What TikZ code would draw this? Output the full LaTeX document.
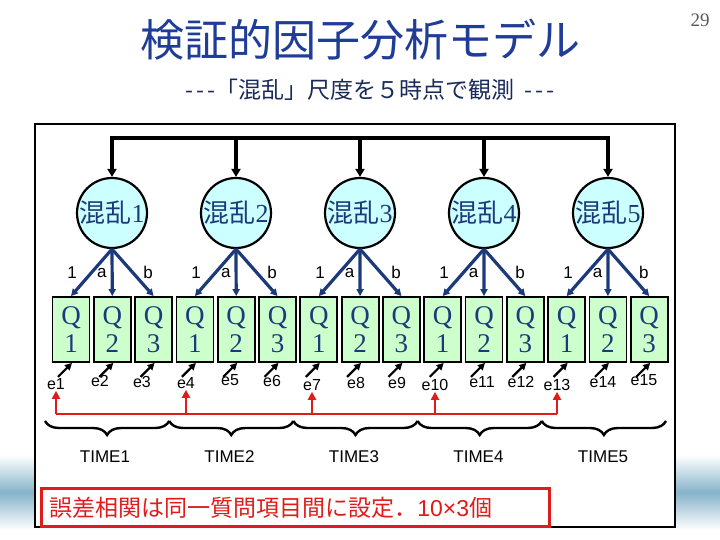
\documentclass[tikz,border=0pt]{standalone}
\usepackage{fontspec}
\setmainfont{Liberation Serif}
\setsansfont{Liberation Sans}
\newfontfamily\jp{Noto Sans CJK JP}
\usepackage{xcolor}
\usetikzlibrary{arrows.meta,decorations.pathreplacing,positioning,calc}

\definecolor{titleblue}{HTML}{1F3C96}
\definecolor{subink}{HTML}{1A2A5A}
\definecolor{inkblue}{HTML}{1C3A7A}
\definecolor{factorfill}{HTML}{CCFFFF}
\definecolor{itemfill}{HTML}{CCFFCC}
\definecolor{corrred}{HTML}{E01B1B}
\definecolor{bandblue}{HTML}{86B3CA}

\begin{document}
\begin{tikzpicture}[x=1pt,y=-1pt,
    factor/.style={circle,draw,line width=2.2pt,fill=factorfill,minimum size=70pt,inner sep=0pt,text=inkblue,font=\fontsize{26}{26}\selectfont},
    item/.style={rectangle,draw,line width=1.8pt,fill=itemfill,minimum width=37pt,minimum height=65pt,inner sep=0pt,align=center,text=inkblue,font=\fontsize{27}{28}\selectfont},
    load/.style={draw=inkblue,line width=3.2pt,-{Triangle[length=7pt,width=7pt]}},
    toparr/.style={line width=3.2pt,-{Triangle[length=8pt,width=9pt]}},
    errarr/.style={line width=2.2pt,-{Triangle[length=7pt,width=7pt]}},
    corr/.style={draw=corrred,line width=2.2pt},
    lab/.style={font=\sffamily\fontsize{17}{17}\selectfont,inner sep=1pt},
    errlab/.style={font=\sffamily\fontsize{16}{16}\selectfont,inner sep=1pt},
    timelab/.style={font=\sffamily\fontsize{17}{17}\selectfont},
    timebrace/.style={decorate,decoration={brace,mirror,amplitude=14pt},line width=2.4pt},
    note/.style={draw=corrred,line width=2.6pt,text=corrred,font=\jp\fontsize{23}{23}\selectfont,minimum height=38pt,text width=492pt,inner xsep=8pt,anchor=north west}]

    \useasboundingbox (0,0) rectangle (720,540);
    \shade[top color=white,bottom color=white,middle color=bandblue] (0,455) rectangle (720,530);

    \node[font=\jp\fontsize{44}{44}\selectfont,text=titleblue] (title) at (360,40) {検証的因子分析モデル};
    \node[font=\jp\fontsize{23}{23}\selectfont,text=subink] (subtitle) at (370,90) {-\kern3pt-\kern3pt-「混乱」尺度を５時点で観測\ \ -\kern3pt-\kern3pt-};
    \node[font=\fontsize{19}{19}\selectfont,text=gray!70!black] (page) at (700,20) {29};

    \draw[line width=2.5pt,fill=white] (35,124) rectangle (675,527);

    \foreach \i in {1,...,5}{
        \node[factor] (f\i) at ({112+124*(\i-1)},213) {{\jp 混乱}\i};
        \coordinate (bar\i) at ({112+124*(\i-1)},138);
    }
    \draw[line width=3.2pt,line cap=rect] (bar1) -- (bar5);
    \foreach \i in {1,...,5}
        \draw[toparr] (bar\i) -- (f\i.north);

    \foreach \j in {1,...,15}{
        \pgfmathtruncatemacro\k{mod(\j-1,3)+1}
        \node[item] (q\j) at ({71+41.3*(\j-1)},329.5) {Q\\\k};
    }

    \foreach \i in {1,...,5}{
        \pgfmathtruncatemacro\qa{3*\i-2}
        \pgfmathtruncatemacro\qb{3*\i-1}
        \pgfmathtruncatemacro\qc{3*\i}
        \draw[load] (f\i.south) -- node[lab,pos=0.5,left=12pt] (one\i) {1} (q\qa.north);
        \draw[load] (f\i.south) -- node[lab,pos=0.5,left=3pt] (la\i) {a} (q\qb.north);
        \draw[load] (f\i.south) -- node[lab,pos=0.5,right=8pt] (lb\i) {b} (q\qc.north);
    }

    \foreach \j/\x/\y in {1/56/384,2/100/381,3/142/382,4/186/383,5/230/380,6/272/381,7/312/385,8/356/383,
                          9/397/383,10/435/385,11/482/382,12/521/382,13/557/385,14/603/382,15/644/380}{
        \node[errlab] (e\j) at (\x,\y) {e\j};
        \coordinate (et\j) at ([shift={(-13pt,-14pt)}]q\j.south);
        \draw[errarr] (et\j) -- ([xshift=1pt]q\j.south);
    }

    \coordinate (redy) at (0,414);
    \foreach \j in {1,4,7,10,13}
        \coordinate (c\j) at (e\j.south |- redy);
    \draw[corr] (c1) -- (c13);
    \foreach \j in {1,4,7,10,13}
        \draw[corr,-{Triangle[length=8pt,width=8pt]}] (c\j) -- (e\j.south);

    \foreach \k in {1,...,5}{
        \draw[timebrace] ({45+124.2*(\k-1)},421) -- ({45+124.2*\k},421);
        \node[timelab] (t\k) at ({105+124.5*(\k-1)},457) {TIME\k};
    }

    \node[note] (errnote) at (40,487) {誤差相関は同一質問項目間に設定．{\sffamily 10×3}個};
\end{tikzpicture}
\end{document}
